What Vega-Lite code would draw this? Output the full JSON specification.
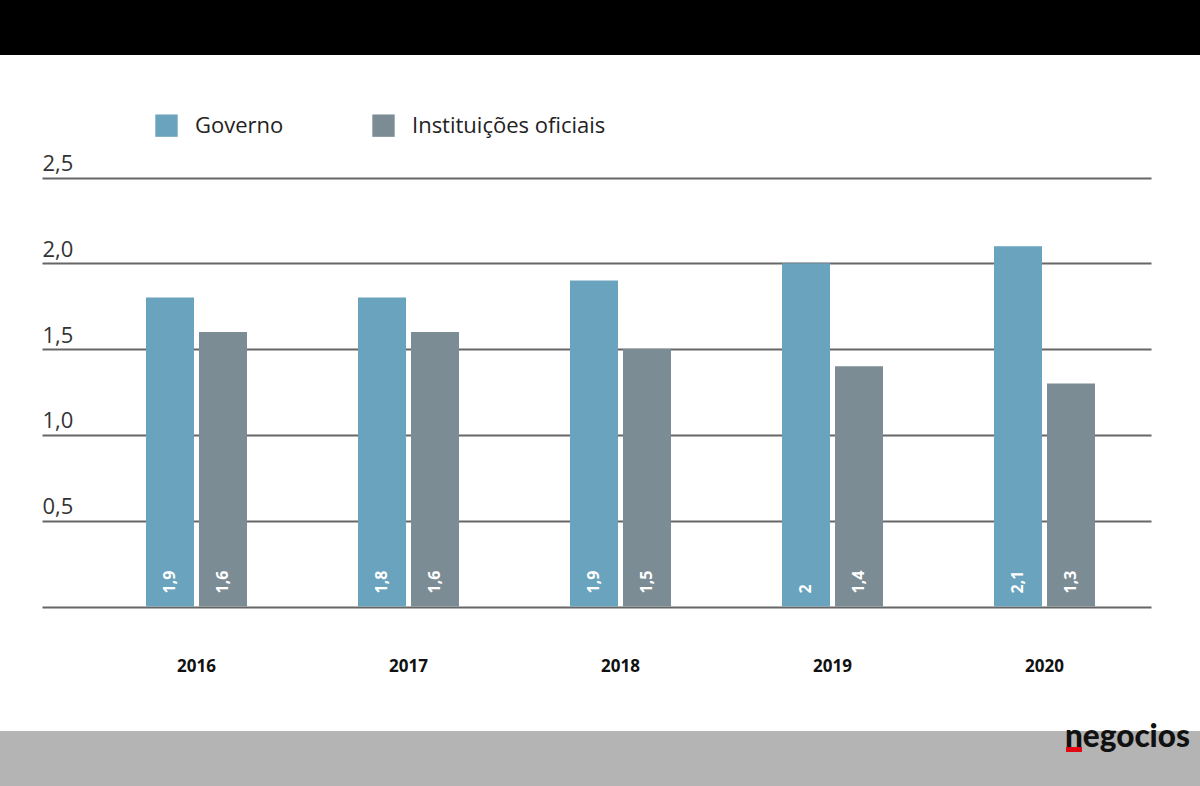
{
  "$schema": "https://vega.github.io/schema/vega-lite/v6.json",
  "width": 1200,
  "height": 786,
  "autosize": "none",
  "padding": 0,
  "background": "white",
  "config": {"view": {"stroke": null}, "font": "Open Sans"},
  "datasets": {
    "bars": [
      {"ano": 2016, "serie": "Governo", "valor": 1.8, "rotulo": "1,9"},
      {"ano": 2016, "serie": "Instituições oficiais", "valor": 1.6, "rotulo": "1,6"},
      {"ano": 2017, "serie": "Governo", "valor": 1.8, "rotulo": "1,8"},
      {"ano": 2017, "serie": "Instituições oficiais", "valor": 1.6, "rotulo": "1,6"},
      {"ano": 2018, "serie": "Governo", "valor": 1.9, "rotulo": "1,9"},
      {"ano": 2018, "serie": "Instituições oficiais", "valor": 1.5, "rotulo": "1,5"},
      {"ano": 2019, "serie": "Governo", "valor": 2.0, "rotulo": "2"},
      {"ano": 2019, "serie": "Instituições oficiais", "valor": 1.4, "rotulo": "1,4"},
      {"ano": 2020, "serie": "Governo", "valor": 2.1, "rotulo": "2,1"},
      {"ano": 2020, "serie": "Instituições oficiais", "valor": 1.3, "rotulo": "1,3"}
    ]
  },
  "layer": [
    {
      "data": {"values": [{"parte": "cabecalho"}]},
      "mark": {"type": "rect", "color": "#000000"},
      "encoding": {
        "y": {"datum": 3.6, "type": "quantitative"},
        "y2": {"datum": 3.2139}
      }
    },
    {
      "data": {"values": [{"parte": "rodape"}]},
      "mark": {"type": "rect", "color": "#b3b4b3"},
      "encoding": {
        "y": {"datum": -0.7255, "type": "quantitative"},
        "y2": {"datum": -1.1}
      }
    },
    {
      "data": {"name": "bars"},
      "mark": {"type": "bar"},
      "encoding": {
        "x": {
          "field": "ano",
          "type": "ordinal",
          "scale": {"range": [42, 1151], "paddingInner": 0.5236, "paddingOuter": 0.37736, "align": 0.65},
          "axis": {
            "orient": "bottom",
            "offset": -179.5,
            "domain": false,
            "ticks": false,
            "grid": false,
            "labelAngle": 0,
            "labelPadding": 65,
            "labelBaseline": "alphabetic",
            "labelFontSize": 17,
            "labelFontWeight": "bold",
            "labelColor": "#111111",
            "labelFont": "Open Sans",
            "title": null
          }
        },
        "xOffset": {
          "field": "serie",
          "type": "nominal",
          "scale": {"paddingInner": 0.0943, "paddingOuter": 0}
        },
        "y": {
          "field": "valor",
          "type": "quantitative",
          "scale": {"domain": [0, 2.5], "range": [606.5, 177.5], "nice": false, "zero": true},
          "axis": {
            "values": [0, 0.5, 1, 1.5, 2, 2.5],
            "labelExpr": "datum.value == 0 ? '' : replace(format(datum.value, '.1f'), '.', ',')",
            "grid": true,
            "gridColor": "#666666",
            "gridWidth": 2,
            "domain": false,
            "ticks": false,
            "tickSize": 0,
            "labelAlign": "left",
            "labelPadding": -42,
            "labelBaseline": "alphabetic",
            "labelOffset": -7,
            "labelFontSize": 22,
            "labelColor": "#333333",
            "labelFont": "Open Sans",
            "title": null
          }
        },
        "color": {
          "field": "serie",
          "type": "nominal",
          "scale": {"domain": ["Governo", "Instituições oficiais"], "range": ["#6aa3be", "#7b8c95"]},
          "legend": {
            "orient": "none",
            "legendX": 155,
            "legendY": 114,
            "direction": "horizontal",
            "title": null,
            "symbolType": "square",
            "symbolSize": 500,
            "symbolStrokeWidth": 0,
            "symbolOpacity": 1,
            "labelFontSize": 22,
            "labelFont": "Open Sans",
            "labelColor": "#222222",
            "labelOffset": 17,
            "labelLimit": 400,
            "columnPadding": 88
          }
        }
      }
    },
    {
      "data": {"name": "bars"},
      "mark": {"type": "text", "angle": 270, "align": "left", "baseline": "middle", "dx": 13, "fontSize": 16, "fontWeight": "bold", "color": "#ffffff", "font": "Open Sans"},
      "encoding": {
        "x": {"field": "ano", "type": "ordinal"},
        "xOffset": {"field": "serie", "type": "nominal"},
        "y": {"datum": 0, "type": "quantitative"},
        "text": {"field": "rotulo"}
      }
    },
    {
      "data": {"values": [{"marca": "negocios"}]},
      "mark": {"type": "text", "align": "left", "baseline": "alphabetic", "dx": -30, "fontSize": 31.5, "fontWeight": 900, "font": "Lato", "color": "#111111"},
      "encoding": {
        "x": {"datum": 2020, "type": "ordinal", "bandPosition": 1},
        "y": {"datum": -0.8188, "type": "quantitative"},
        "text": {"field": "marca"}
      }
    },
    {
      "data": {"values": [{"marca": "traço"}]},
      "mark": {"type": "point", "filled": true, "opacity": 1, "strokeWidth": 0, "color": "#e30613", "size": 3600, "shape": "M-0.9667,0H-0.4333V0.1667H-0.9667Z"},
      "encoding": {
        "x": {"datum": 2020, "type": "ordinal", "bandPosition": 1},
        "y": {"datum": -0.8188, "type": "quantitative"}
      }
    }
  ]
}
